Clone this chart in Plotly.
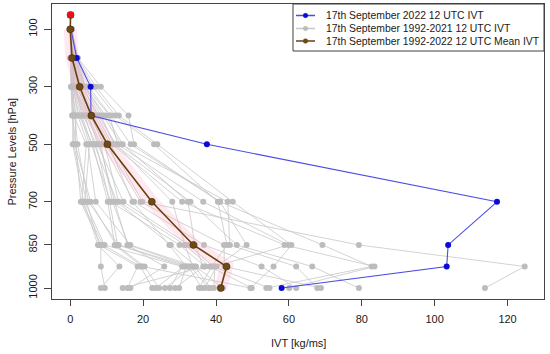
import plotly.graph_objects as go

# ---------------- data ----------------
levels = [100, 200, 300, 400, 500, 700, 850, 925, 1000]

# 1992-2021 IVT per level (one value per year, same year order in every list)
ivt_100 = [0, 0, 0.1, 0, 0.1, 0, 0.2, 0, 0.2, 0.1, 0.3, 0.1, 0.4, 0, 0.5, 0.1, 0, 0.3, 0.1, 0.4,
           0.1, 0.2, 0.3, 0.1, 0.2, 0.2, 0.3, 0.2, 0.3, 0.2]
ivt_200 = [0.0, 0.1, 0.3, 0.1, 0.4, 0.2, 0.6, 0.2, 0.9, 0.3, 1.2, 0.4, 1.8, 0.2, 2.1, 0.5, 0.3, 1.5, 0.4, 2.0,
           0.5, 0.5, 1.6, 0.6, 1.0, 0.7, 1.3, 0.7, 1.1, 0.8]
ivt_300 = [0.2, 0.4, 0.7, 0.3, 1.2, 0.5, 2.0, 0.5, 3.2, 0.9, 4.0, 1.0, 6.2, 0.6, 8.4, 1.3, 0.8, 4.3, 1.1, 7.0,
           1.5, 1.8, 5.0, 2.0, 3.6, 2.3, 4.2, 2.6, 3.9, 3.0]
ivt_400 = [0.7, 0.5, 2.4, 1.0, 4.4, 0.9, 6.0, 1.6, 7.8, 2.9, 9.7, 3.6, 12.4, 1.3, 16.0, 4.8, 2.1, 10.8, 4.0, 13.3,
           3.2, 5.4, 11.1, 5.0, 7.3, 5.8, 9.0, 6.2, 8.4, 6.6]
ivt_500 = [0.7, 1.6, 6.2, 0.9, 8.0, 4.4, 10.5, 1.3, 12.5, 5.3, 14.4, 7.1, 23.0, 2.0, 17.5, 8.4, 4.8, 13.0, 6.6, 23.9,
           5.8, 9.4, 16.6, 7.5, 11.5, 9.0, 13.9, 9.8, 12.1, 11.0]
ivt_700 = [3.7, 2.9, 10.3, 4.5, 12.2, 3.2, 17.1, 5.6, 28.0, 4.0, 32.3, 10.8, 40.5, 5.0, 41.1, 11.6, 7.0, 36.5, 12.8, 44.6,
           11.1, 13.3, 41.1, 14.6, 30.7, 17.5, 43.2, 19.3, 33.0, 19.8]
ivt_850 = [7.6, 8.4, 12.2, 8.0, 15.7, 9.0, 27.2, 12.6, 31.5, 9.4, 34.2, 13.0, 43.0, 13.3, 48.4, 16.0, 16.5, 59.9, 27.6, 60.7,
           30.0, 31.5, 69.2, 32.6, 58.8, 36.7, 43.8, 42.2, 45.7, 79.2]
ivt_925 = [13.5, 8.4, 19.8, 18.5, 25.8, 19.3, 31.8, 20.4, 33.6, 30.7, 36.5, 31.2, 38.9, 32.4, 40.2, 32.9, 34.2, 39.7, 34.5, 55.8,
           37.0, 38.3, 82.7, 39.2, 83.5, 52.5, 62.0, 42.3, 66.4, 124.7]
ivt_1000 = [8.4, 9.5, 49.5, 15.7, 16.5, 22.5, 29.9, 24.4, 26.0, 27.4, 28.8, 23.4, 35.3, 36.1, 36.9, 38.0, 38.5, 39.4, 41.9, 49.5,
            14.4, 49.8, 53.8, 54.7, 60.1, 62.0, 67.8, 68.8, 79.2, 113.8]

# 17 Sep 2022 12 UTC
ivt_2022 = [0.2, 1.8, 5.6, 5.7, 37.5, 117.1, 103.7, 103.3, 58.0]

# 1992-2022 mean
mean_levels = [50, 100, 200, 300, 400, 500, 700, 850, 925, 1000]
ivt_mean = [0.1, 0.0, 0.5, 2.6, 5.8, 10.2, 22.4, 33.8, 42.9, 41.3]

top_level = [50]
top_value = [0.1]

tick_levels = [100, 300, 500, 700, 850, 1000]
x_ticks = [0, 20, 40, 60, 80, 100, 120]

legend_labels = ["17th September 2022 12 UTC IVT",
                 "17th September 1992-2021 12 UTC IVT",
                 "17th September 1992-2022 12 UTC Mean IVT"]

# ---------------- figure ----------------
grey_cols = [ivt_100, ivt_200, ivt_300, ivt_400, ivt_500, ivt_700, ivt_850, ivt_925, ivt_1000]
gx, gy = [], []
for i in range(len(ivt_1000)):
    for lev, col in zip(levels, grey_cols):
        gx.append(col[i])
        gy.append(lev)
    gx.append(None)
    gy.append(None)

FONT = "Liberation Sans, Arial, sans-serif"
GREY_L = "#c8c8c8"
GREY_M = "#bcbcbc"
BLUE_L = "#4b4be6"
BLUE_M = "#0a0ad8"
BROWN_L = "#6b3f0c"
BROWN_M = "#6e4a14"

fig = go.Figure()
fig.add_trace(go.Scatter(x=gx, y=gy, mode="lines+markers",
                         line=dict(color=GREY_L, width=0.8),
                         marker=dict(color=GREY_M, size=6),
                         showlegend=False, hoverinfo="skip"))
# pink haze along mean
fig.add_trace(go.Scatter(x=ivt_mean[1:], y=mean_levels[1:], mode="lines",
                         line=dict(color="rgba(255,175,205,0.28)", width=13),
                         showlegend=False, hoverinfo="skip"))
fig.add_trace(go.Scatter(x=ivt_2022, y=levels, mode="lines+markers",
                         line=dict(color=BLUE_L, width=1.1),
                         marker=dict(color=BLUE_M, size=6),
                         showlegend=False))
fig.add_trace(go.Scatter(x=ivt_mean, y=mean_levels, mode="lines+markers",
                         line=dict(color=BROWN_L, width=1.6),
                         marker=dict(color=BROWN_M, size=7, line=dict(color="#4a2e06", width=0.6)),
                         showlegend=False))
fig.add_trace(go.Scatter(x=top_value, y=top_level, mode="markers",
                         marker=dict(color="#e8101a", size=6, symbol="square"),
                         showlegend=False))

W, H = 550, 354
L, R, T, B = 52, 544, 4, 299

def px2paper_x(px):
    return (px - L) / (R - L)

def px2paper_y(py):
    return 1 - (py - T) / (B - T)

shapes = []
annotations = []
# legend box
shapes.append(dict(type="rect", xref="paper", yref="paper",
                   x0=px2paper_x(293), x1=1, y0=px2paper_y(51), y1=1,
                   line=dict(color="#404040", width=1), fillcolor="white", layer="above"))
legend_styles = [(BLUE_L, BLUE_M), (GREY_L, GREY_M), (BROWN_L, BROWN_M)]
rows = [15.5, 28.5, 41]
for (lc, mc), ry, lab in zip(legend_styles, rows, legend_labels):
    shapes.append(dict(type="line", xref="paper", yref="paper",
                       x0=px2paper_x(296), x1=px2paper_x(315), y0=px2paper_y(ry), y1=px2paper_y(ry),
                       line=dict(color=lc, width=1.5), layer="above"))
    shapes.append(dict(type="circle", xref="paper", yref="paper",
                       x0=px2paper_x(303.2), x1=px2paper_x(307.8), y0=px2paper_y(ry + 2.3), y1=px2paper_y(ry - 2.3),
                       line=dict(color=mc, width=0.5), fillcolor=mc, layer="above"))
    annotations.append(dict(text=lab, xref="paper", yref="paper", x=px2paper_x(324), y=px2paper_y(ry),
                            xanchor="left", yanchor="middle", showarrow=False,
                            font=dict(family=FONT, size=10.4, color="#1a1a1a")))

annotations.append(dict(text="IVT [kg/ms]", xref="paper", yref="paper",
                        x=0.5, y=px2paper_y(343), xanchor="center", yanchor="middle", showarrow=False,
                        font=dict(family=FONT, size=11, color="#1a1a1a")))
annotations.append(dict(text="Pressure Levels [hPa]", xref="paper", yref="paper",
                        x=px2paper_x(11), y=0.5, xanchor="center", yanchor="middle", showarrow=False,
                        textangle=-90, font=dict(family=FONT, size=11, color="#1a1a1a")))

fig.update_layout(
    width=W, height=H,
    margin=dict(l=L, r=W - R, t=T, b=H - B),
    plot_bgcolor="white", paper_bgcolor="white",
    showlegend=False,
    shapes=shapes, annotations=annotations,
    font=dict(family=FONT, size=11, color="#1a1a1a"),
)
fig.update_xaxes(range=[-5, 130], tickvals=x_ticks, ticks="outside", ticklen=6, tickcolor="#444",
                 showline=True, linecolor="#444", linewidth=1, mirror=True,
                 showgrid=False, zeroline=False, ticklabelstandoff=4,
                 tickfont=dict(family=FONT, size=11, color="#1a1a1a"))
fig.update_yaxes(range=[1038, 12], tickvals=tick_levels, ticks="outside", ticklen=7, tickcolor="#444",
                 showline=True, linecolor="#444", linewidth=1, mirror=True,
                 showgrid=False, zeroline=False, tickangle=-90, ticklabelstandoff=3,
                 tickfont=dict(family=FONT, size=11, color="#1a1a1a"))

fig.write_html("out.html",
               config={"displayModeBar": False},
               post_script="document.body.style.margin='0';document.body.style.overflow='hidden';")
